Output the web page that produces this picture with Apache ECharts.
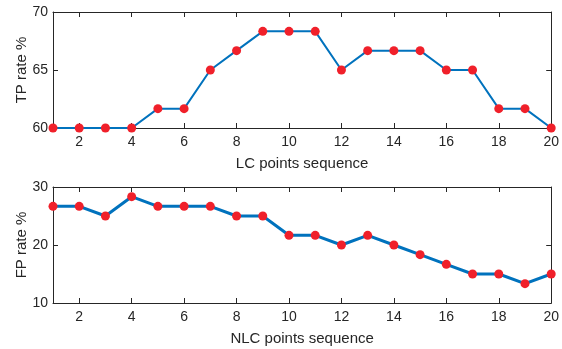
<!DOCTYPE html>
<html><head><meta charset="utf-8">
<script src="https://cdn.jsdelivr.net/npm/echarts@6/dist/echarts.min.js"></script>
<style>html,body{margin:0;padding:0;background:#fff}#c{width:562px;height:349px}</style>
</head><body><div id="c"></div>
<script>
const seq = [1,2,3,4,5,6,7,8,9,10,11,12,13,14,15,16,17,18,19,20];
const tpRate = [60,60,60,60,61.67,61.67,65,66.67,68.33,68.33,68.33,65,66.67,66.67,66.67,65,65,61.67,61.67,60];
const fpRate = [26.67,26.67,25,28.33,26.67,26.67,26.67,25,25,21.67,21.67,20,21.67,20,18.33,16.67,15,15,13.33,15];
const xTicks = [2,4,6,8,10,12,14,16,18,20];
const tpTicks = [60,65,70];
const fpTicks = [10,20,30];

const axisCol = '#262626';
const font = 'Liberation Sans, Arial, sans-serif';
const grids = [
  {left:53, right:10, top:12, height:116},
  {left:53, right:10, top:187, height:116}
];
function xAx(gi, name, pos, show){
  return {type:'value', gridIndex:gi, min:1, max:20, position:pos,
    name: show?name:'', nameLocation:'middle', nameGap:28, nameMoveOverlap:false,
    nameTextStyle:{color:axisCol, fontSize:15, fontFamily:font},
    axisLine:{show:true, lineStyle:{color:axisCol, width:1}},
    axisTick:{show:true, inside:true, length:5, customValues:xTicks, lineStyle:{color:axisCol}},
    axisLabel:{show:show, customValues:xTicks, color:axisCol, fontSize:14, fontFamily:font, margin:7},
    splitLine:{show:false}};
}
function yAx(gi, name, ticks, pos, show){
  return {type:'value', gridIndex:gi, min:ticks[0], max:ticks[ticks.length-1], position:pos,
    name: show?name:'', nameLocation:'middle', nameGap:24, nameMoveOverlap:false,
    nameTextStyle:{color:axisCol, fontSize:15, fontFamily:font},
    axisLine:{show:true, lineStyle:{color:axisCol, width:1}},
    axisTick:{show:true, inside:true, length:5, customValues:ticks, lineStyle:{color:axisCol}},
    axisLabel:{show:show, customValues:ticks, color:axisCol, fontSize:14, fontFamily:font, margin:5},
    splitLine:{show:false}};
}
const chart = echarts.init(document.getElementById('c'));
chart.setOption({
  animation:false,
  grid:grids,
  xAxis:[xAx(0,'LC points sequence','bottom',true), xAx(0,'','top',false),
         xAx(1,'NLC points sequence','bottom',true), xAx(1,'','top',false)],
  yAxis:[yAx(0,'TP rate %',tpTicks,'left',true), yAx(0,'',tpTicks,'right',false),
         yAx(1,'FP rate %',fpTicks,'left',true), yAx(1,'',fpTicks,'right',false)],
  series:[
    {type:'line', xAxisIndex:0, yAxisIndex:0, data:seq.map((s,i)=>[s,tpRate[i]]),
     lineStyle:{color:'#0072BD', width:2}, symbol:'circle', symbolSize:9,
     itemStyle:{color:'#F0202A'}, z:3},
    {type:'line', xAxisIndex:2, yAxisIndex:2, data:seq.map((s,i)=>[s,fpRate[i]]),
     lineStyle:{color:'#0072BD', width:3}, symbol:'circle', symbolSize:9,
     itemStyle:{color:'#F0202A'}, z:3}
  ]
});
</script></body></html>
